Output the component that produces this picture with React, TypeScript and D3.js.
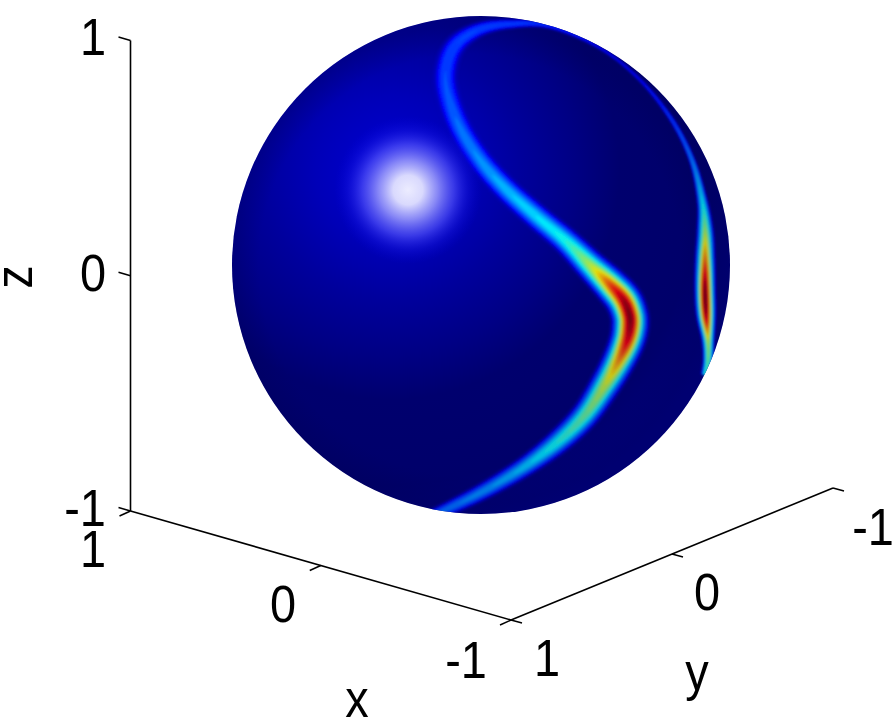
import React from "react";
import * as d3 from "d3";

// Tick values and labels
const zTicks = [1, 0, -1];
const xTicks = [1, 0, -1];
const yTicks = [1, 0, -1];
const tickLabels = ["1", "0", "-1"];

// Ridge on the sphere, in projected unit-disc coordinates
const ridgeU = [-0.2,-0.044,0.076,0.197,0.317,0.418,0.498,0.55,0.585,0.598,0.596,0.572,0.52,0.438,0.337,0.217,0.096,-0.004,-0.084,-0.133,-0.141,-0.104,-0.012,0.116,0.277,0.478,0.639,0.767,0.847,0.888,0.9,0.9,0.9,0.904,0.912,0.912,0.9];
const ridgeV = [-1.01,-0.936,-0.871,-0.795,-0.703,-0.602,-0.482,-0.39,-0.31,-0.25,-0.2,-0.14,-0.08,0,0.1,0.2,0.309,0.422,0.55,0.683,0.783,0.88,0.944,0.968,0.96,0.872,0.743,0.582,0.422,0.261,0.141,0.02,-0.1,-0.201,-0.301,-0.382,-0.442];
const ridgeI = [0.24,0.28,0.31,0.36,0.43,0.5,0.6,0.74,0.9,0.98,1,0.96,0.82,0.58,0.42,0.36,0.32,0.28,0.25,0.22,0.21,0.21,0.21,0.2,0.18,0.15,0.15,0.2,0.27,0.38,0.55,0.78,1,0.95,0.6,0.5,0.42];
const ridgeW = [0.018,0.021,0.023,0.025,0.028,0.03,0.032,0.033,0.034,0.035,0.035,0.035,0.034,0.032,0.03,0.03,0.03,0.031,0.032,0.033,0.033,0.03,0.022,0.015,0.01,0.007,0.007,0.008,0.009,0.013,0.018,0.02,0.02,0.019,0.014,0.012,0.01];

const levels = d3.range(0.06, 1.0, 0.03);
const W = 896;
const H = 721;

const u2px = d3.scaleLinear().domain([-1, 1]).range([232, 730]);
const v2px = d3.scaleLinear().domain([-1, 1]).range([514, 16]);
const wScale = d3.scaleLinear().domain([0, 1]).range([0, 249]);

const zAxisX = 130.5;
const zAxisY = d3.scaleLinear().domain([1, -1]).range([40.5, 511]);
const xAxisPx = d3.scaleLinear().domain([1, -1]).range([130.5, 511]);
const xAxisPy = d3.scaleLinear().domain([1, -1]).range([511, 620]);
const yAxisPx = d3.scaleLinear().domain([1, -1]).range([511, 833]);
const yAxisPy = d3.scaleLinear().domain([1, -1]).range([620, 488]);

function jet(t: number): string {
  const c = (x: number) => Math.max(0, Math.min(1, x));
  const r = c(Math.min(4 * t - 1.5, -4 * t + 4.5));
  const g = c(Math.min(4 * t - 0.5, -4 * t + 3.5));
  const b = c(Math.min(4 * t + 0.5, -4 * t + 2.5));
  return d3.rgb(r * 255, g * 255, b * 255).formatHex();
}

function catmull(a: number[], sub: number): number[] {
  const out: number[] = [];
  for (let i = 0; i < a.length - 1; i++) {
    const p0 = a[Math.max(0, i - 1)];
    const p1 = a[i];
    const p2 = a[i + 1];
    const p3 = a[Math.min(a.length - 1, i + 2)];
    for (let k = 0; k < sub; k++) {
      const s = k / sub;
      out.push(0.5 * (2 * p1 + (p2 - p0) * s + (2 * p0 - 5 * p1 + 4 * p2 - p3) * s * s + (3 * p1 - p0 - 3 * p2 + p3) * s * s * s));
    }
  }
  out.push(a[a.length - 1]);
  return out;
}

const SUB = 14;
const cx = catmull(ridgeU, SUB).map((d) => u2px(d));
const cy = catmull(ridgeV, SUB).map((d) => v2px(d));
const ci = catmull(ridgeI, SUB);
const cw = catmull(ridgeW, SUB).map((d) => wScale(d));

const lineGen = d3.line<[number, number]>().x((d) => d[0]).y((d) => d[1]);

function ribbon(level: number): string {
  const left: [number, number][] = [];
  const right: [number, number][] = [];
  for (let i = 0; i < cx.length; i++) {
    const a = Math.max(0, i - 1);
    const b = Math.min(cx.length - 1, i + 1);
    const dx = cx[b] - cx[a];
    const dy = cy[b] - cy[a];
    const n = Math.hypot(dx, dy) || 1;
    const r = ci[i] / level;
    const hw = r > 1 ? cw[i] * Math.sqrt(2 * Math.log(r)) : 0;
    left.push([cx[i] - (dy / n) * hw, cy[i] + (dx / n) * hw]);
    right.push([cx[i] + (dy / n) * hw, cy[i] - (dx / n) * hw]);
  }
  return lineGen(left.concat(right.reverse())) + "Z";
}

function Tick({ x1, y1, x2, y2 }: { x1: number; y1: number; x2: number; y2: number }) {
  return <line x1={x1} y1={y1} x2={x2} y2={y2} stroke="#000" strokeWidth={1.5} />;
}

export default function App() {
  const font = "'Liberation Sans', Arial, sans-serif";
  const label = (x: number, y: number, s: string, key: string) => (
    <text key={key} transform={`translate(${x} ${y}) scale(0.92 1)`} fontFamily={font} fontSize={51} textAnchor="middle" dominantBaseline="central" fill="#000">
      {s}
    </text>
  );
  return (
    <svg width={W} height={H} viewBox={`0 0 ${W} ${H}`} style={{ position: "absolute", left: 0, top: 0, background: "#fff" }}>
      <defs>
        <radialGradient id="diffuse" gradientUnits="userSpaceOnUse" cx={390} cy={170} r={370}>
          <stop offset="0" stopColor="#0000d4" />
          <stop offset="0.2" stopColor="#0000b8" />
          <stop offset="0.35" stopColor="#00009c" />
          <stop offset="0.5" stopColor="#000084" />
          <stop offset="0.62" stopColor="#00006e" />
          <stop offset="0.85" stopColor="#00006a" />
          <stop offset="1" stopColor="#00007c" />
        </radialGradient>
        <radialGradient id="spec" gradientUnits="userSpaceOnUse" cx={408} cy={190} r={74}>
          <stop offset="0" stopColor="#ecECff" stopOpacity={1} />
          <stop offset="0.2" stopColor="#e0e0ff" stopOpacity={0.97} />
          <stop offset="0.4" stopColor="#a0a0ff" stopOpacity={0.85} />
          <stop offset="0.62" stopColor="#5858ff" stopOpacity={0.65} />
          <stop offset="0.82" stopColor="#2020f0" stopOpacity={0.3} />
          <stop offset="1" stopColor="#0000e0" stopOpacity={0} />
        </radialGradient>
        <radialGradient id="rim" gradientUnits="userSpaceOnUse" cx={470} cy={265} r={240}>
          <stop offset="0.88" stopColor="#000050" stopOpacity={0} />
          <stop offset="1" stopColor="#000050" stopOpacity={0.25} />
        </radialGradient>
        <radialGradient id="lightFade" gradientUnits="userSpaceOnUse" cx={420} cy={150} r={400}>
          <stop offset="0.3" stopColor="#fff" />
          <stop offset="0.75" stopColor="#c8c8c8" />
          <stop offset="1" stopColor="#d8d8d8" />
        </radialGradient>
        <mask id="bandMask" maskUnits="userSpaceOnUse" x={0} y={0} width={W} height={H}>
          <rect x={0} y={0} width={W} height={H} fill="url(#lightFade)" />
        </mask>
        <clipPath id="disc">
          <circle cx={u2px(0)} cy={v2px(0)} r={wScale(1)} />
        </clipPath>
        <filter id="soft" x="-5%" y="-5%" width="110%" height="110%">
          <feGaussianBlur stdDeviation={0.9} />
        </filter>
      </defs>

      <g stroke="#000" strokeWidth={1.6} fill="none">
        <line x1={zAxisX} y1={zAxisY(1)} x2={zAxisX} y2={zAxisY(-1)} />
        <line x1={xAxisPx(1)} y1={xAxisPy(1)} x2={xAxisPx(-1)} y2={xAxisPy(-1)} />
        <line x1={yAxisPx(1)} y1={yAxisPy(1)} x2={yAxisPx(-1)} y2={yAxisPy(-1)} />
      </g>
      {zTicks.map((t) => (
        <Tick key={`z${t}`} x1={zAxisX} y1={zAxisY(t)} x2={zAxisX - 12} y2={zAxisY(t) - 3.5} />
      ))}
      {xTicks.map((t) => (
        <Tick key={`x${t}`} x1={xAxisPx(t)} y1={xAxisPy(t)} x2={xAxisPx(t) - 11} y2={xAxisPy(t) + 5} />
      ))}
      {yTicks.map((t) => (
        <Tick key={`y${t}`} x1={yAxisPx(t)} y1={yAxisPy(t)} x2={yAxisPx(t) + 11} y2={yAxisPy(t) + 3} />
      ))}

      <circle cx={u2px(0)} cy={v2px(0)} r={wScale(1)} fill="url(#diffuse)" />
      <g clipPath="url(#disc)">
        <circle cx={u2px(0)} cy={v2px(0)} r={wScale(1)} fill="url(#rim)" />
        <g mask="url(#bandMask)">
          <g filter="url(#soft)">
            {levels.map((l) => (
              <path key={l} d={ribbon(l)} fill={jet(l)} fillOpacity={l < 0.12 ? 0.45 : 1} />
            ))}
          </g>
        </g>
        <circle cx={408} cy={190} r={74} fill="url(#spec)" />
      </g>

      {zTicks.map((t, i) => label(i === 2 ? 85 : 93, [37, 273, 508][i], tickLabels[i], `zl${t}`))}
      {xTicks.map((t, i) => label([93, 283, 466][i], [549, 604, 660][i], tickLabels[i], `xl${t}`))}
      {yTicks.map((t, i) => label([547, 707, 873][i], [658, 592, 527][i], tickLabels[i], `yl${t}`))}
      {label(357, 699, "x", "xname")}
      {label(697, 672, "y", "yname")}
      <text transform="translate(14 277) rotate(-90) scale(0.92 1)" fontFamily={font} fontSize={51} textAnchor="middle" dominantBaseline="central">
        z
      </text>
    </svg>
  );
}
